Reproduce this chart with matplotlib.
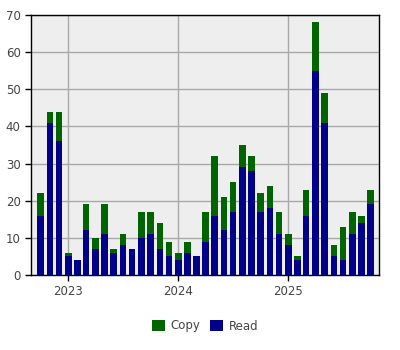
import matplotlib
matplotlib.use("Agg")
import matplotlib.pyplot as plt
import matplotlib.dates as mdates
import numpy as np
import datetime as dt

months = [f"{y}-{m:02d}" for y, m in
          [(2022, 10), (2022, 11), (2022, 12)] +
          [(2023, m) for m in range(1, 13)] +
          [(2024, m) for m in range(1, 13)] +
          [(2025, m) for m in range(1, 11)]]
read = [16, 41, 36, 5, 4, 12, 7, 11, 6, 8, 7, 10, 11, 7, 5, 4, 6, 5,
        9, 16, 12, 17, 29, 28, 17, 18, 11, 8, 4, 16, 55, 41, 5, 4, 11, 14, 19]
copy = [6, 3, 8, 1, 0, 7, 3, 8, 1, 3, 0, 7, 6, 7, 4, 2, 3, 0,
        8, 16, 9, 8, 6, 4, 5, 6, 6, 3, 1, 7, 13, 8, 3, 9, 6, 2, 4]

dates = [dt.datetime.strptime(m + "-01", "%Y-%m-%d") for m in months]
x = mdates.date2num(dates)

fig = plt.figure(figsize=(4, 3.5), dpi=100)
ax = fig.add_axes([31/400, 75/350, 348/400, 260/350])
ax.set_facecolor("#EEEEEE")

blue = "#000088"
green = "#006400"
w = 22
bars_read = ax.bar(x, read, width=w, color=blue, label="Read", zorder=3)
bars_copy = ax.bar(x, copy, width=w, bottom=read, color=green, label="Copy", zorder=3)

ax.set_ylim(0, 70)
ax.set_yticks(range(0, 71, 10))
ax.set_xlim(mdates.date2num(dt.datetime(2022, 8, 30)), mdates.date2num(dt.datetime(2025, 10, 29)))
ax.xaxis.set_major_locator(mdates.YearLocator())
ax.xaxis.set_major_formatter(mdates.DateFormatter("%Y"))

ax.grid(True, color="#A8A8A8", linewidth=1, zorder=0)
ax.set_axisbelow(True)
for s in ax.spines.values():
    s.set_color("black")
    s.set_linewidth(1.0)
ax.tick_params(axis="both", colors="black", labelcolor="#444444", labelsize=8.5, length=4, width=1)

handles = [bars_copy, bars_read]
fig.legend(handles, ["Copy", "Read"], loc="center", bbox_to_anchor=(205/400, 1 - 326/350),
           ncol=2, frameon=False, fontsize=8.5, handlelength=1.1, handleheight=1.1,
           columnspacing=0.8, handletextpad=0.5, labelcolor="#444444")

fig.savefig("out.png", dpi=100, facecolor="white")
